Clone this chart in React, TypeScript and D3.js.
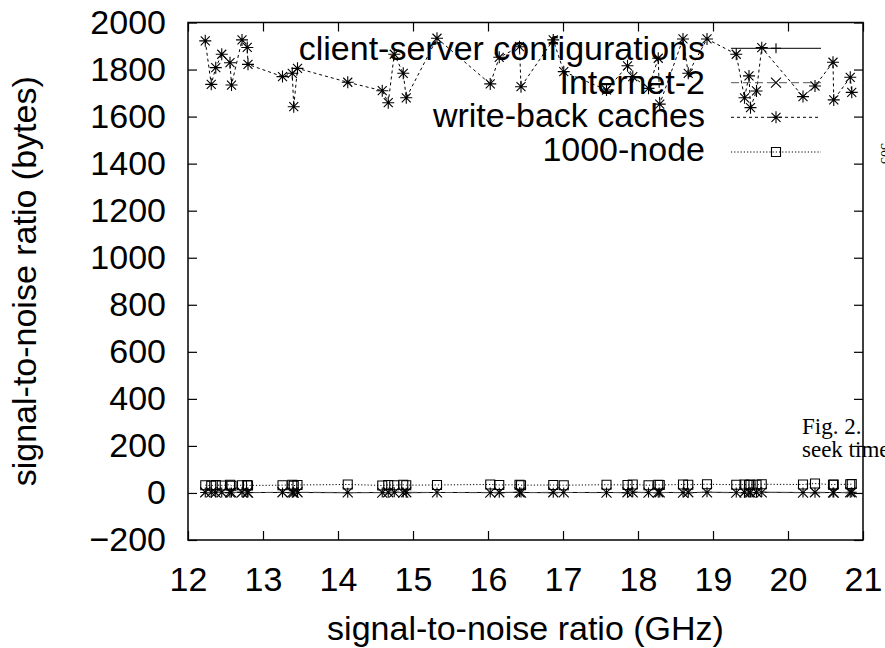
import * as d3 from "d3";
import { useRef, useEffect } from "react";

const width = 885;
const height = 648;
const marginTop = 22.5;
const marginLeft = 188;
const plotRight = 863;
const plotBottom = 540;

const sansFont = "'Liberation Sans', Arial, sans-serif";
const serifFont = "'Liberation Serif', 'DejaVu Serif', serif";
const fontSize = 34;

// shared x values (GHz)
const snrGHz = [
  12.23, 12.31, 12.37, 12.45, 12.56, 12.58, 12.72, 12.79, 12.8, 13.26, 13.39,
  13.41, 13.46, 14.13, 14.59, 14.67, 14.75, 14.87, 14.91, 15.32, 16.03, 16.15,
  16.42, 16.44, 16.87, 17.01, 17.58, 17.86, 17.93, 18.14, 18.27, 18.29, 18.6,
  18.67, 18.92, 19.31, 19.42, 19.48, 19.5, 19.58, 19.65, 20.2, 20.36, 20.6,
  20.61, 20.83, 20.85,
];

const clientServer = [
  2, 1, 3, 2, 1, 2, 3, 1, 2, 2, 1, 3, 2, 1, 2, 1, 3, 2, 1, 2, 2, 1, 3, 2, 1, 2,
  2, 1, 3, 2, 1, 2, 2, 1, 3, 2, 1, 2, 2, 1, 3, 2, 1, 2, 2, 1, 3,
];

const internet2 = [
  3, 2, 1, 3, 2, 1, 3, 2, 1, 3, 2, 1, 3, 2, 1, 3, 2, 1, 3, 2, 1, 3, 2, 1, 3, 2,
  1, 3, 2, 1, 3, 2, 1, 3, 2, 1, 3, 2, 1, 3, 2, 1, 3, 2, 1, 3, 2,
];

const writeBack = [
  1922, 1737, 1808, 1865, 1829, 1734, 1926, 1894, 1822, 1770, 1784, 1642, 1805,
  1746, 1710, 1659, 1865, 1784, 1680, 1933, 1739, 1852, 1897, 1727, 1926, 1791,
  1713, 1816, 1770, 1720, 1848, 1653, 1930, 1784, 1930, 1865, 1680, 1773, 1638,
  1709, 1893, 1685, 1730, 1831, 1671, 1767, 1703,
];

const node1000 = [
  33, 31, 34, 32, 35, 31, 33, 34, 32, 33, 35, 31, 34, 36, 32, 34, 33, 35, 33,
  34, 36, 34, 35, 33, 34, 33, 35, 34, 36, 33, 35, 34, 36, 35, 37, 35, 36, 34,
  36, 35, 37, 36, 40, 35, 36, 37, 38,
];

const yTicks = [-200, 0, 200, 400, 600, 800, 1000, 1200, 1400, 1600, 1800, 2000];
const xTicks = [12, 13, 14, 15, 16, 17, 18, 19, 20, 21];

const legendNames = [
  "client-server configurations",
  "Internet-2",
  "write-back caches",
  "1000-node",
];

type Marker = "plus" | "cross" | "star" | "square";

const seriesList: {
  name: string;
  values: number[];
  dash: string;
  stroke: string;
  marker: Marker;
}[] = [
  { name: legendNames[0], values: clientServer, dash: "", stroke: "#000", marker: "plus" },
  { name: legendNames[1], values: internet2, dash: "8,4", stroke: "#555", marker: "cross" },
  { name: legendNames[2], values: writeBack, dash: "3,3", stroke: "#000", marker: "star" },
  { name: legendNames[3], values: node1000, dash: "1.2,2", stroke: "#000", marker: "square" },
];

const markerPath = (m: Marker, cx: number, cy: number) => {
  const r = m === "star" ? 6 : 5;
  const p = d3.path();
  if (m === "plus" || m === "star") {
    p.moveTo(cx - r, cy);
    p.lineTo(cx + r, cy);
    p.moveTo(cx, cy - r);
    p.lineTo(cx, cy + r);
  }
  if (m === "cross" || m === "star") {
    const q = m === "star" ? r * 0.75 : r;
    p.moveTo(cx - q, cy - q);
    p.lineTo(cx + q, cy + q);
    p.moveTo(cx - q, cy + q);
    p.lineTo(cx + q, cy - q);
  }
  if (m === "square") {
    p.rect(cx - 4.5, cy - 4.5, 9, 9);
  }
  return p.toString();
};

const App = () => {
  const gx = useRef<SVGGElement>(null);
  const gy = useRef<SVGGElement>(null);
  const gxTop = useRef<SVGGElement>(null);
  const gyRight = useRef<SVGGElement>(null);

  const x = d3.scaleLinear().domain([12, 21]).range([marginLeft, plotRight]);
  const y = d3.scaleLinear().domain([-200, 2000]).range([plotBottom, marginTop]);

  useEffect(() => {
    const styleAxis = (g: d3.Selection<SVGGElement, unknown, null, undefined>) => {
      g.select(".domain").remove();
      g.attr("font-family", sansFont).attr("font-size", fontSize);
      g.selectAll(".tick line").attr("stroke", "#000").attr("stroke-width", 1.2);
      g.selectAll(".tick text").attr("fill", "#000");
    };
    if (gx.current) {
      d3.select(gx.current)
        .call(d3.axisBottom(x).tickValues(xTicks).tickSizeInner(-9).tickSizeOuter(0).tickPadding(27).tickFormat(d3.format("d")))
        .call(styleAxis);
    }
    if (gy.current) {
      d3.select(gy.current)
        .call(d3.axisLeft(y).tickValues(yTicks).tickSizeInner(-9).tickSizeOuter(0).tickPadding(22).tickFormat(d3.format("d")))
        .call(styleAxis);
    }
    if (gxTop.current) {
      d3.select(gxTop.current)
        .call(d3.axisTop(x).tickValues(xTicks).tickSizeInner(-9).tickSizeOuter(0).tickFormat(() => ""))
        .call(styleAxis);
    }
    if (gyRight.current) {
      d3.select(gyRight.current)
        .call(d3.axisRight(y).tickValues(yTicks).tickSizeInner(-9).tickSizeOuter(0).tickFormat(() => ""))
        .call(styleAxis);
    }
  }, []);

  const lineBuilder = d3
    .line<number>()
    .x((_, i) => x(snrGHz[i]))
    .y((d) => y(d));

  const legendTextY = [60, 93.5, 127, 160.5];
  const legendLineY = [48.3, 82.7, 117.3, 152];

  return (
    <svg
      width={width}
      height={height}
      viewBox={`0 0 ${width} ${height}`}
      style={{ position: "absolute", left: 0, top: 0, background: "#fff" }}
    >
      <rect x={0} y={0} width={width} height={height} fill="#fff" />

      {seriesList.map((s) => (
        <g key={s.name}>
          <path
            d={lineBuilder(s.values) as string}
            fill="none"
            stroke={s.stroke}
            strokeWidth={1}
            strokeDasharray={s.dash || undefined}
          />
          {s.values.map((v, i) => (
            <path
              key={i}
              d={markerPath(s.marker, x(snrGHz[i]), y(v))}
              fill="none"
              stroke="#000"
              strokeWidth={1.1}
            />
          ))}
        </g>
      ))}

      {/* legend */}
      {seriesList.map((s, i) => (
        <g key={"lg" + s.name}>
          <text
            x={705}
            y={legendTextY[i]}
            textAnchor="end"
            fontFamily={sansFont}
            fontSize={fontSize}
            fill="#000"
          >
            {s.name}
          </text>
          <line
            x1={731}
            x2={821}
            y1={legendLineY[i]}
            y2={legendLineY[i]}
            stroke={s.stroke}
            strokeWidth={1}
            strokeDasharray={s.dash || undefined}
          />
          <path d={markerPath(s.marker, 776, legendLineY[i])} fill="none" stroke="#000" strokeWidth={1.1} />
        </g>
      ))}

      <rect
        x={marginLeft}
        y={marginTop}
        width={plotRight - marginLeft}
        height={plotBottom - marginTop}
        fill="none"
        stroke="#000"
        strokeWidth={1.5}
      />

      <g ref={gx} transform={`translate(0, ${plotBottom})`} />
      <g ref={gy} transform={`translate(${marginLeft}, 0)`} />
      <g ref={gxTop} transform={`translate(0, ${marginTop})`} />
      <g ref={gyRight} transform={`translate(${plotRight}, 0)`} />

      <text
        x={(marginLeft + plotRight) / 2}
        y={640}
        textAnchor="middle"
        fontFamily={sansFont}
        fontSize={fontSize}
        fill="#000"
      >
        signal-to-noise ratio (GHz)
      </text>
      <text
        transform={`translate(36, ${(marginTop + plotBottom) / 2}) rotate(-90)`}
        textAnchor="middle"
        fontFamily={sansFont}
        fontSize={fontSize}
        fill="#000"
      >
        signal-to-noise ratio (bytes)
      </text>

      {/* fragments of the surrounding page */}
      <text x={802} y={434} fontFamily={serifFont} fontSize={23} fill="#000">
        Fig. 2.
      </text>
      <text x={802} y={457} fontFamily={serifFont} fontSize={23} fill="#000">
        seek time
      </text>
      <text
        transform="translate(881, 143) rotate(90)"
        fontFamily={serifFont}
        fontSize={14}
        fill="#000"
      >
        305
      </text>
    </svg>
  );
};

export default App;
